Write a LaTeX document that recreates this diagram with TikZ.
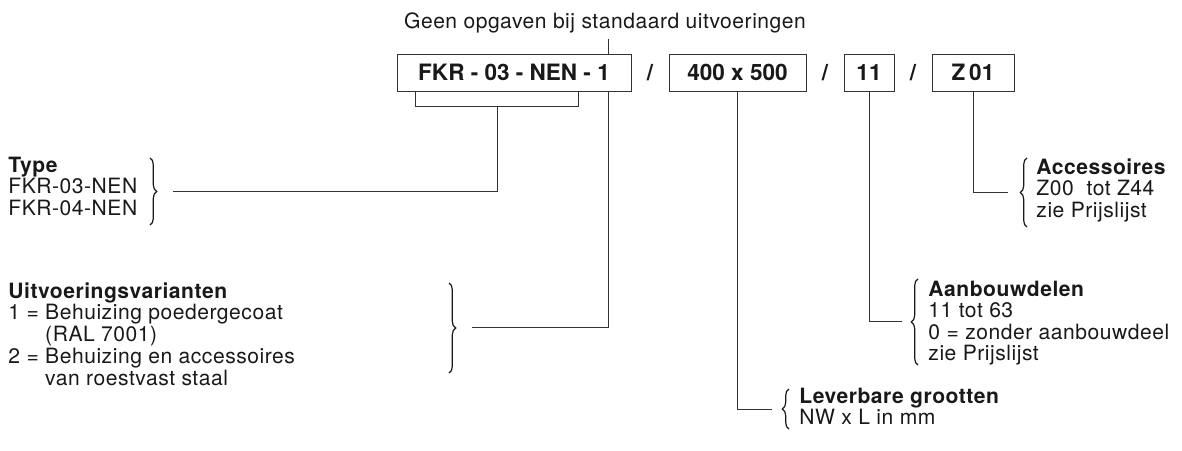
\documentclass[tikz,border=0pt]{standalone}
\usepackage{fontspec}
\setmainfont{TeX Gyre Heros}[LetterSpace=2.5]
\newfontfamily\codefam{TeX Gyre Heros}
\usetikzlibrary{positioning,decorations.pathreplacing}

\newcommand{\bodyfont}{\fontsize{15.8}{16}\selectfont}
\newcommand{\codefont}{\codefam\fontsize{16.9}{18}\selectfont\bfseries}

\begin{document}
\begin{tikzpicture}[x=0.75pt, y=-0.75pt, line width=0.7pt,
  every node/.style={font=\bodyfont, text=black!90, inner sep=0pt},
  codebox/.style={draw=black!80, font=\codefont, minimum height=27.75pt},
  lead/.style={draw=black!80},
  bracer/.style={draw=black!90, decorate, decoration={brace, amplitude=5pt}, line width=0.9pt},
  legend/.style={anchor=base west}]
  \useasboundingbox (0,0) rectangle (1182,450);

  % Heading
  \node[anchor=base] (title) at (605,28) {Geen opgaven bij standaard uitvoeringen};

  % Order code boxes
  \node[codebox, minimum width=175.5pt] (fkr) at (514,72.5) {FKR - 03 - NEN - 1};
  \node[codebox, minimum width=102.75pt] (maat) at (737.5,72.5) {400 x 500};
  \node[codebox, minimum width=37.5pt] (aanb) at (869,72.5) {11};
  \node[codebox, minimum width=61.5pt] (acc) at (973,72.5) {Z\,01};
  \node[font=\codefont] (s1) at (650,72.5) {/};
  \node[font=\codefont] (s2) at (825,72.5) {/};
  \node[font=\codefont] (s3) at (913,72.5) {/};

  % Leaders
  \coordinate (tick) at (608,39);
  \draw[lead] (tick) -- (tick |- fkr.north);
  \coordinate (bl) at (415,106);
  \coordinate (br) at (578,106);
  \coordinate (bm) at (497,106);
  \draw[lead] (bl |- fkr.south) -- (bl) -- (br) -- (br |- fkr.south);
  \coordinate (typeend) at (173,191);
  \draw[lead] (bm) |- (typeend);
  \coordinate (varend) at (472,327);
  \draw[lead] (tick |- fkr.south) |- (varend);
  \coordinate (levend) at (772,409);
  \draw[lead] (maat.south) |- (levend);
  \coordinate (aanbend) at (902,321);
  \draw[lead] (aanb.south) |- (aanbend);
  \coordinate (accend) at (1008,192);
  \draw[lead] (acc.south) |- (accend);

  % Braces
  \draw[bracer] (150,158) -- (150,225);
  \draw[bracer] (449,283) -- (449,373);
  \draw[bracer] (789,429) -- (789,389);
  \draw[bracer] (918,365) -- (918,279);
  \draw[bracer] (1027,227) -- (1027,158);

  % Legends
  \node[legend] (typetxt) at (8,172) {\begin{tabular}[t]{@{}l@{}}\textbf{Type}\\FKR-03-NEN\\FKR-04-NEN\end{tabular}};
  \node[legend] (vartxt) at (8,298) {\begin{tabular}[t]{@{}l@{}}\textbf{Uitvoeringsvarianten}\\1 = Behuizing poedergecoat\\\phantom{1 = }(RAL 7001)\\2 = Behuizing en accessoires\\\phantom{2 = }van roestvast staal\end{tabular}};
  \node[legend] (levtxt) at (799,403) {\begin{tabular}[t]{@{}l@{}}\textbf{Leverbare grootten}\\NW x L in mm\end{tabular}};
  \node[legend] (aanbtxt) at (928,296) {\begin{tabular}[t]{@{}l@{}}\textbf{Aanbouwdelen}\\11 tot 63\\0 = zonder aanbouwdeel\\zie Prijslijst\end{tabular}};
  \node[legend] (acctxt) at (1036,174) {\begin{tabular}[t]{@{}l@{}}\textbf{Accessoires}\\Z00\ \ tot Z44\\zie Prijslijst\end{tabular}};
\end{tikzpicture}
\end{document}
